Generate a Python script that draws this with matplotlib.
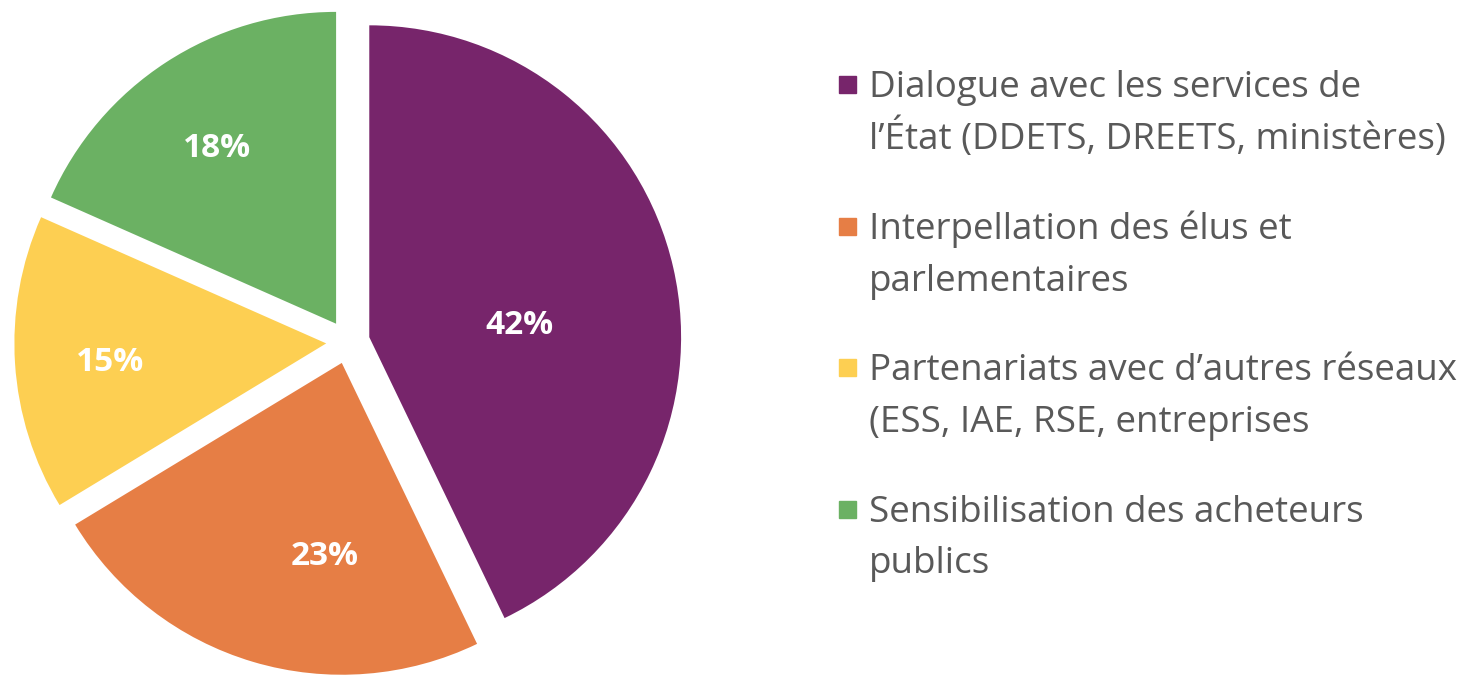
import numpy as np
import matplotlib.pyplot as plt
from matplotlib.patches import Rectangle

# data
categories = [
    "Dialogue avec les services de\nl\u2019\u00c9tat (DDETS, DREETS, minist\u00e8res)",
    "Interpellation des \u00e9lus et\nparlementaires",
    "Partenariats avec d\u2019autres r\u00e9seaux\n(ESS, IAE, RSE, entreprises",
    "Sensibilisation des acheteurs\npublics",
]
values = [42, 23, 15, 18]
pct_labels = ["42%", "23%", "15%", "18%"]
colors = ["#77256B", "#E67E45", "#FDCF52", "#6BB163"]

plt.rcParams["font.family"] = ["Open Sans", "DejaVu Sans"]

W, H = 1470, 677
fig = plt.figure(figsize=(W / 100, H / 100), dpi=100)

# pie axes: 1 unit ~ 312 px, centre near (348, 342) px
ax = fig.add_axes([5 / W, -8 / H, 686 / W, 686 / H])
wedges, texts = ax.pie(
    values,
    colors=colors,
    startangle=90,
    counterclock=False,
    explode=[0.07] * len(values),
    labels=pct_labels,
    textprops=dict(color="white", fontsize=24, fontweight="bold",
                   ha="center", va="center"),
)
ax.set_xlim(-1.1, 1.1)
ax.set_ylim(-1.1, 1.1)
ax.set_aspect("equal")
ax.axis("off")

# place the % labels inside each wedge, like the "best fit" of the original
label_dist = [0.484, 0.624, 0.695, 0.68]   # fraction of radius
label_turn = [-8.3, 11.6, 1.5, 1.1]        # degrees from the wedge middle
for t, w, d, a in zip(texts, wedges, label_dist, label_turn):
    mid = np.deg2rad((w.theta1 + w.theta2) / 2 + a)
    cx, cy = w.center
    t.set_position((cx + d * w.r * np.cos(mid), cy + d * w.r * np.sin(mid)))

# legend drawn by hand (square aligned with first line)
x_sq, x_txt = 839 / W, 869 / W
y0 = 1 - 97 / H
step = 141.5 / H
line_gap = 52 / H
for i, (lab, col) in enumerate(zip(categories, colors)):
    yb = y0 - i * step
    fig.patches.append(Rectangle((x_sq, yb + 4 / H), 17 / W, 17 / H,
                                 transform=fig.transFigure, color=col))
    for j, line in enumerate(lab.split("\n")):
        fig.text(x_txt, yb - j * line_gap, line, fontsize=26.5,
                 color="#595959", va="baseline", ha="left")

fig.savefig("out.png", dpi=100)
